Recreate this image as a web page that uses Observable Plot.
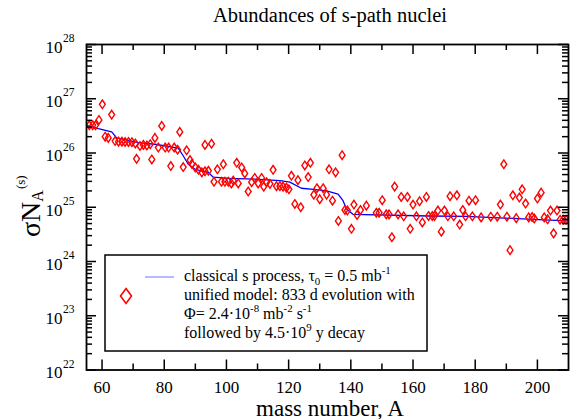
<!DOCTYPE html>
<html><head><meta charset="utf-8">
<script src="https://cdn.jsdelivr.net/npm/d3@7"></script>
<script src="https://cdn.jsdelivr.net/npm/@observablehq/plot@0.6"></script>
<style>
html,body{margin:0;padding:0;background:#fff}
</style>
</head><body><div id="chart"></div>
<script>
// classical s-process curve (mass number, sigma*N)
const lineA = [55, 58.8, 63.1, 64.7, 71.7, 77, 84.5, 86.1, 87.7, 89.9, 94.1, 95.7, 101.1, 109.1, 117.2, 120.4, 124.1, 127.9, 132.2, 135.9, 137.5, 138.6, 140.7, 165.3, 177.1, 198.5, 210];
const lineV = [3.24e26, 2.82e26, 2.45e26, 1.9e26, 1.55e26, 1.45e26, 1.23e26, 8.9e25, 6.2e25, 5.0e25, 4.4e25, 3.6e25, 3.4e25, 3.3e25, 3.1e25, 2.9e25, 2.24e25, 2.14e25, 2.0e25, 1.74e25, 1.32e25, 9.3e24, 7.4e24, 6.9e24, 6.8e24, 6.0e24, 5.6e24];

// unified model abundances (diamonds)
const ptA = [55.9, 57.0, 57.9, 59, 60.1, 61, 62, 63.1, 64.2, 65.3, 66.4, 67.4, 68.5, 69.6, 70.7, 71.1, 72.2, 73.3, 74.4, 75.5, 76, 77, 78.1, 79.2, 80.3, 81.4, 82.1, 83.2, 84.3, 85, 86.1, 87.2, 88.3, 88.9, 90, 91, 92.1, 93.1, 93.1, 94.2, 95.2, 96, 97.1, 98.4, 99, 99.5, 100.6, 101.6, 102.2, 103.3, 103.8, 104.9, 105.9, 107, 108.1, 109.1, 110.2, 111.3, 112, 112.9, 114, 115, 116.1, 117.2, 118.2, 119.3, 120.1, 120.9, 122, 123, 123.9, 125.2, 126.3, 127, 128.1, 129.1, 130, 131.1, 132.2, 133, 134.1, 135.1, 136, 137.2, 138.1, 138.9, 140.2, 141, 142, 143.1, 145, 148.2, 149.1, 150.1, 151.4, 152.3, 153.2, 154.1, 155.2, 156.2, 157, 158.2, 159.1, 160, 161.1, 162.1, 163, 164.3, 165, 166.2, 166.9, 168, 169.1, 170.1, 171.2, 171.9, 173.1, 174.1, 175, 176, 176.9, 178, 179.1, 180.1, 181.9, 185, 187.1, 188.1, 189.2, 190.2, 191.2, 192.1, 193.2, 194.2, 195.1, 196.2, 197.2, 198.3, 199, 200, 201.2, 202.2, 203.3, 204.2, 205.2, 206.3, 207.3, 208.3, 209.2];
const ptV = [3.24e26, 3.24e26, 3.24e26, 4.07e26, 7.9e26, 2.0e26, 1.9e26, 5.1e26, 1.66e26, 1.62e26, 1.62e26, 1.6e26, 1.6e26, 1.58e26, 1.5e26, 7.8e25, 1.35e26, 1.41e26, 1.38e26, 1.45e26, 7.6e25, 1.9e26, 1.26e26, 3.16e26, 1.26e26, 1.26e26, 5.75e25, 1.26e26, 1.15e26, 2.45e26, 5.5e25, 1.12e26, 7.4e25, 6.3e25, 5.4e25, 4.9e25, 4.4e25, 4.6e25, 1.41e26, 4.7e25, 1.48e26, 2.95e25, 5.0e25, 2.95e25, 6.2e25, 2.95e25, 2.95e25, 2.75e25, 3.1e25, 6.6e25, 2.75e25, 5.4e25, 4.2e25, 1.95e25, 2.9e25, 3.47e25, 2.75e25, 3.47e25, 2.4e25, 2.9e25, 2.7e25, 4.9e25, 2.45e25, 2.45e25, 2.4e25, 2.3e25, 2.14e25, 3.8e25, 1.15e25, 3.16e25, 1.0e25, 5.9e25, 3.6e25, 6.6e25, 1.7e25, 2.24e25, 1.41e25, 2.24e25, 1.7e25, 5.0e25, 1.32e25, 4.4e25, 5.6e24, 9.1e25, 8.9e24, 8.7e24, 4.0e24, 1.12e25, 7.2e24, 8.9e24, 1.07e25, 7.9e24, 7.9e24, 1.35e25, 7.4e24, 7.4e24, 2.8e24, 2.4e25, 7.4e24, 1.55e25, 6.8e24, 1.55e25, 4.0e24, 1.12e25, 6.8e24, 1.29e25, 5.25e24, 1.55e25, 6.9e24, 6.9e24, 6.9e24, 8.7e24, 3.55e24, 8.7e24, 6.8e24, 1.6e25, 6.8e24, 1.66e25, 4.8e24, 8.9e24, 6.8e24, 1.32e25, 6.8e24, 1.35e25, 6.5e24, 6.7e24, 6.7e24, 1.12e25, 6.2e25, 6.7e24, 1.62e24, 1.66e25, 6.3e24, 1.51e25, 2.14e25, 1.17e25, 6.5e24, 6.6e24, 6.2e24, 1.45e25, 1.86e25, 6.5e24, 6.0e24, 8.7e24, 3.3e24, 8.7e24, 5.9e24, 5.9e24, 5.9e24];

// ticks
const xMajor = [60, 80, 100, 120, 140, 160, 180, 200];
const xMinor = [70, 90, 110, 130, 150, 170, 190];
const yMajor = [1e22, 1e23, 1e24, 1e25, 1e26, 1e27, 1e28];
const yExp = ["22", "23", "24", "25", "26", "27", "28"];
const yMinor = [];
for (let e = 22; e < 28; e++) for (let m = 2; m <= 9; m++) yMinor.push(+(m + "e" + e));

const FONT = '"Liberation Serif", "Times New Roman", serif';
const W = 575, H = 419, mL = 86, mR = 7, mT = 44, mB = 49.5;
const pw = W - mL - mR, ph = H - mT - mB;
const line = lineA.map((a, i) => ({a, v: lineV[i]}));
const pts = ptA.map((a, i) => ({a, v: ptV[i]}));

const diamond = {draw(ctx, size) {
  const r = Math.sqrt(size / Math.PI);
  const h = r * 1.1, w = r * 0.75;
  ctx.moveTo(0, -h); ctx.lineTo(w, 0); ctx.lineTo(0, h); ctx.lineTo(-w, 0); ctx.closePath();
}};

const tickStyle = {stroke: "black", strokeWidth: 1.5};
const chart = Plot.plot({
  width: W, height: H,
  marginLeft: mL, marginRight: mR, marginTop: mT, marginBottom: mB,
  style: {fontFamily: FONT, background: "white", color: "black"},
  x: {domain: [55, 210], axis: null},
  y: {type: "log", domain: [1e22, 1e28], axis: null},
  marks: [
    Plot.line(line, {x: "a", y: "v", stroke: "#0000ff", strokeWidth: 1.3, clip: true}),
    Plot.dot(pts, {x: "a", y: "v", symbol: diamond, r: 3.9, stroke: "#ff0000", strokeWidth: 1.4, fill: "none", clip: true}),
    // inward ticks
    Plot.tickX(xMajor, {x: d => d, insetTop: ph - 10, ...tickStyle}),
    Plot.tickX(xMajor, {x: d => d, insetBottom: ph - 10, ...tickStyle}),
    Plot.tickX(xMinor, {x: d => d, insetTop: ph - 6, ...tickStyle}),
    Plot.tickX(xMinor, {x: d => d, insetBottom: ph - 6, ...tickStyle}),
    Plot.tickY(yMajor, {y: d => d, insetRight: pw - 10, ...tickStyle}),
    Plot.tickY(yMajor, {y: d => d, insetLeft: pw - 10, ...tickStyle}),
    Plot.tickY(yMinor, {y: d => d, insetRight: pw - 6, ...tickStyle}),
    Plot.tickY(yMinor, {y: d => d, insetLeft: pw - 6, ...tickStyle}),
    Plot.frame({stroke: "black", strokeWidth: 1.8}),
    // tick labels
    Plot.text(xMajor, {x: d => d, frameAnchor: "bottom", dy: 18, text: d => String(d), fontSize: 17, lineAnchor: "middle", fontFamily: FONT}),
    Plot.text(yMajor, {y: d => d, frameAnchor: "left", dx: -24, dy: 3, text: () => "10", textAnchor: "end", fontSize: 17, lineAnchor: "middle", fontFamily: FONT}),
    Plot.text(yMajor, {y: d => d, frameAnchor: "left", dx: -23.5, dy: -6, text: (d, i) => yExp[i], textAnchor: "start", fontSize: 11.5, lineAnchor: "middle", fontFamily: FONT})
  ]
});
chart.style.fontFamily = FONT;
document.getElementById("chart").appendChild(chart);

const svg = d3.select(chart);
function rich(sel, parts, base) {
  let pend = 0;
  parts.forEach(([s, t]) => {
    const ts = sel.append("tspan").text(s);
    let dy = pend; pend = 0;
    if (t === "sup") { ts.attr("font-size", base * 0.68); dy += -base * 0.45; pend = base * 0.45; }
    else if (t === "sub") { ts.attr("font-size", base * 0.68); dy += base * 0.25; pend = -base * 0.25; }
    if (dy) ts.attr("dy", dy);
  });
}

// title
svg.append("text").attr("x", 330).attr("y", 22).attr("text-anchor", "middle").attr("font-family", FONT)
  .attr("font-size", 20.5).attr("fill", "black").text("Abundances of s-path nuclei");
// x label
svg.append("text").attr("x", 330).attr("y", 415.5).attr("text-anchor", "middle").attr("font-family", FONT)
  .attr("font-size", 23).attr("fill", "black").text("mass number, A");
// y label
const yl = svg.append("text").attr("transform", "translate(40,237) rotate(-90)").attr("font-family", FONT)
  .attr("text-anchor", "start").attr("fill", "black").attr("font-size", 28);
yl.append("tspan").text("\u03c3N");
yl.append("tspan").attr("font-size", 16).attr("dy", 3).text("A");
yl.append("tspan").attr("font-size", 13).attr("dy", -18).attr("dx", 1).text("(s)");

// legend
const lg = svg.append("g");
lg.append("rect").attr("x", 105).attr("y", 255).attr("width", 322).attr("height", 96)
  .attr("fill", "white").attr("stroke", "black").attr("stroke-width", 1.5);
lg.append("line").attr("x1", 145).attr("x2", 174).attr("y1", 277).attr("y2", 277)
  .attr("stroke", "#0000ff").attr("stroke-width", 1).attr("stroke-opacity", 0.55);
lg.append("path").attr("d", "M126,288.5L131.5,296L126,303.5L120.5,296Z")
  .attr("fill", "none").attr("stroke", "#ff0000").attr("stroke-width", 1.6);
const fs = 16;
const lines = [
  [["classical s process, "], ["\u03c4"], ["0", "sub"], [" = 0.5 mb"], ["-1", "sup"]],
  [["unified model: 833 d evolution with"]],
  [["\u03a6= 2.4\u00b710"], ["-8", "sup"], [" mb"], ["-2", "sup"], [" s"], ["-1", "sup"]],
  [["followed by 4.5\u00b710"], ["9", "sup"], [" y decay"]]
];
lines.forEach((parts, i) => {
  const t = lg.append("text").attr("x", 184).attr("y", 281 + i * 19).attr("font-size", fs)
    .attr("font-family", FONT).attr("text-anchor", "start").attr("fill", "black");
  rich(t, parts, fs);
});
</script>
</body></html>
